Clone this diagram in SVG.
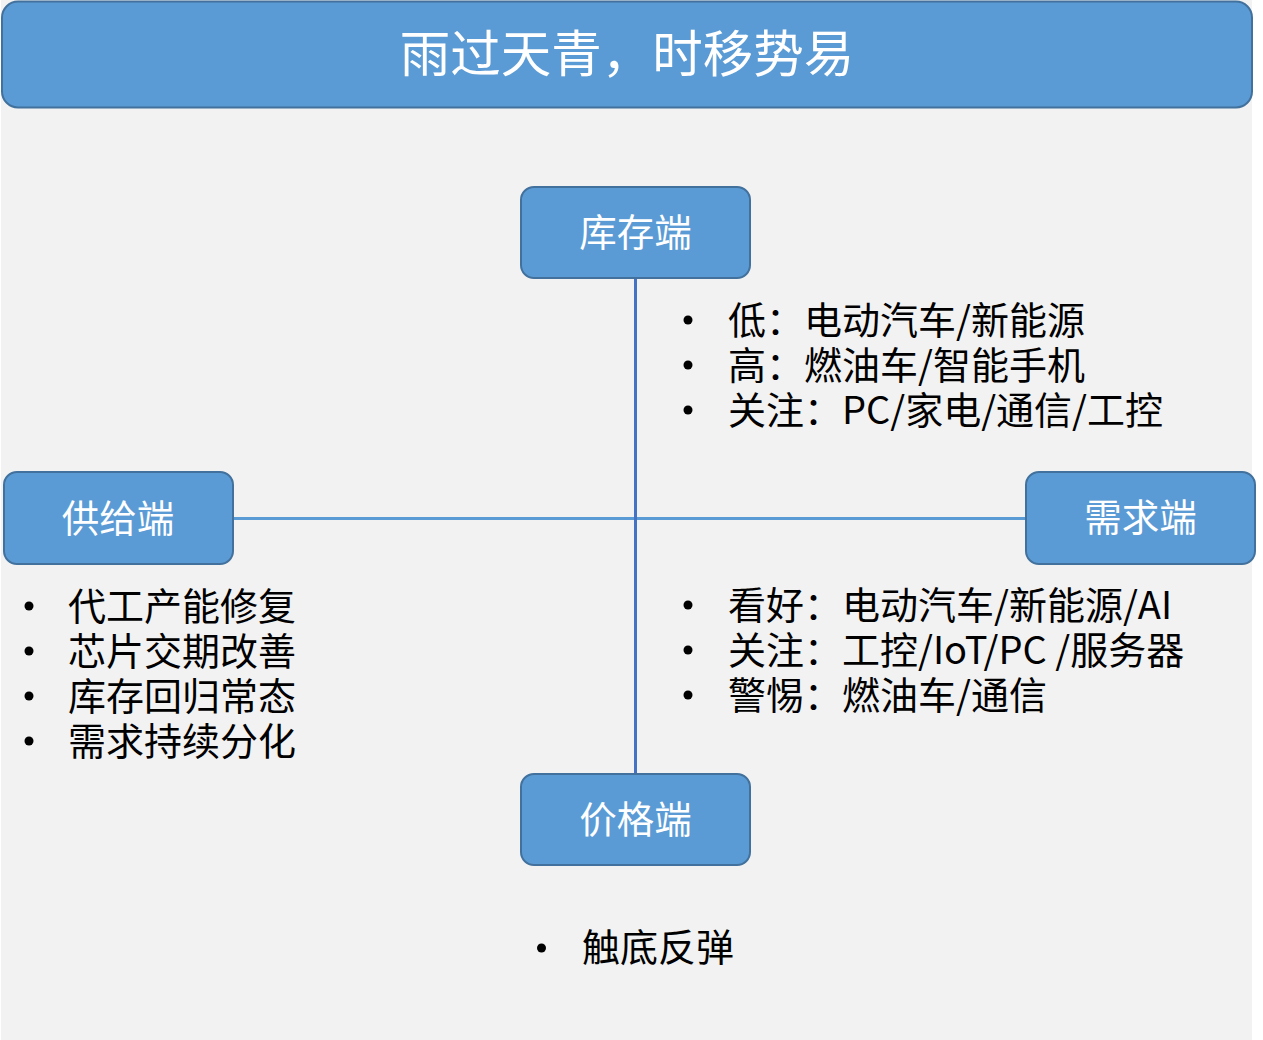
<svg xmlns="http://www.w3.org/2000/svg" width="1263" height="1040" viewBox="0 0 1263 1040">
<style>
.box{fill:#5b9bd5;stroke:#41719c;stroke-width:2}
.lbl{fill:#ffffff;font-family:"Noto Sans CJK SC","Noto Sans",sans-serif;font-size:37.5px;text-anchor:middle}
.ttl{fill:#ffffff;font-family:"Noto Sans CJK SC","Noto Sans",sans-serif;font-size:50.5px;text-anchor:middle}
.txt{fill:#000000;font-family:"Noto Sans CJK SC","Noto Sans",sans-serif;font-size:38px}
.dot{fill:#000000}
</style>
<rect x="0" y="0" width="1263" height="1040" fill="#ffffff"/>
<rect x="1" y="0" width="1251" height="1040" fill="#f2f2f2"/>
<g id="title">
<rect class="box" x="2" y="1.5" width="1250" height="106" rx="16"/>
<text class="ttl" x="627" y="72">雨过天青，时移势易</text>
</g>
<g id="connectors">
<line x1="233" y1="518.5" x2="1026" y2="518.5" stroke="#5b9bd5" stroke-width="3"/>
<line x1="635.5" y1="278" x2="635.5" y2="773" stroke="#4472c4" stroke-width="3"/>
</g>
<g id="node-kucun">
<rect class="box" x="521" y="187" width="229" height="91" rx="13"/>
<text class="lbl" x="635.5" y="246">库存端</text>
</g>
<g id="node-gongji">
<rect class="box" x="4" y="472" width="229" height="92" rx="13"/>
<text class="lbl" x="118" y="532">供给端</text>
</g>
<g id="node-xuqiu">
<rect class="box" x="1026" y="472" width="229" height="92" rx="13"/>
<text class="lbl" x="1140.5" y="531">需求端</text>
</g>
<g id="node-jiage">
<rect class="box" x="521" y="774" width="229" height="91" rx="13"/>
<text class="lbl" x="635.5" y="833">价格端</text>
</g>
<g id="list-kucun">
<circle class="dot" cx="688" cy="320" r="4.5"/>
<circle class="dot" cx="688" cy="365" r="4.5"/>
<circle class="dot" cx="688" cy="410" r="4.5"/>
<text class="txt"><tspan x="728" y="334">低：电动汽车/新能源</tspan><tspan x="728" y="379">高：燃油车/智能手机</tspan><tspan x="728" y="424">关注：PC/家电/通信/工控</tspan></text>
</g>
<g id="list-gongji">
<circle class="dot" cx="29" cy="606" r="4.5"/>
<circle class="dot" cx="29" cy="651" r="4.5"/>
<circle class="dot" cx="29" cy="696" r="4.5"/>
<circle class="dot" cx="29" cy="741" r="4.5"/>
<text class="txt"><tspan x="68" y="620">代工产能修复</tspan><tspan x="68" y="665">芯片交期改善</tspan><tspan x="68" y="710">库存回归常态</tspan><tspan x="68" y="755">需求持续分化</tspan></text>
</g>
<g id="list-xuqiu">
<circle class="dot" cx="688" cy="605" r="4.5"/>
<circle class="dot" cx="688" cy="650" r="4.5"/>
<circle class="dot" cx="688" cy="695" r="4.5"/>
<text class="txt"><tspan x="728" y="619">看好：电动汽车/新能源/AI</tspan><tspan x="728" y="664">关注：工控/IoT/PC /服务器</tspan><tspan x="728" y="709">警惕：燃油车/通信</tspan></text>
</g>
<g id="list-jiage">
<circle class="dot" cx="541.5" cy="948" r="4.5"/>
<text class="txt" x="582" y="961">触底反弹</text>
</g>
</svg>
